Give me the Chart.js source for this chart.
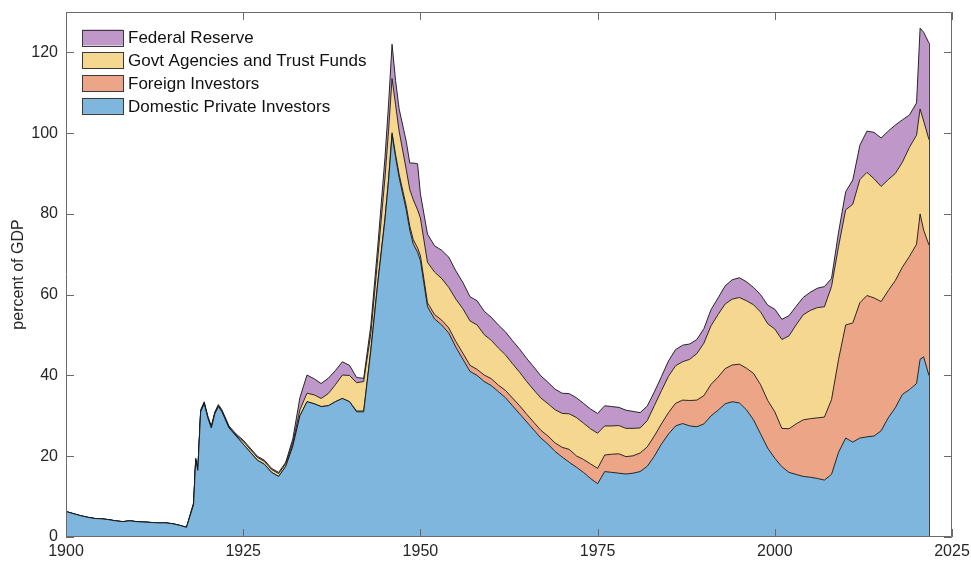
<!DOCTYPE html>
<html>
<head>
<meta charset="utf-8">
<title>Holders of US federal debt</title>
<script src="https://cdn.jsdelivr.net/npm/chart.js@4.4.1/dist/chart.umd.min.js"></script>
<style>
  html, body { margin: 0; padding: 0; background: #fff; }
  #wrap { width: 971px; height: 562px; }
</style>
</head>
<body>
<div id="wrap"><canvas id="debtChart" width="971" height="562"></canvas></div>
<script>
// year positions (a few half-year points where the curve turns sharply)
const years = [
  1900, 1901, 1902, 1903, 1904, 1905, 1906, 1907, 1908, 1909,
  1910, 1911, 1912, 1913, 1914, 1915, 1916, 1917,
  1918, 1918.3, 1918.6, 1919, 1919.5, 1920, 1920.5, 1921, 1921.5, 1922,
  1923, 1924, 1925, 1926, 1927, 1928, 1929, 1930, 1931, 1932,
  1933, 1934, 1935, 1936, 1937, 1938, 1939, 1940, 1941, 1942,
  1943, 1944, 1945,
  1945.5, 1946, 1946.5, 1947, 1948, 1948.5, 1949, 1949.6, 1950,
  1951, 1952, 1953, 1954, 1955, 1956, 1957, 1958, 1959, 1960,
  1961, 1962, 1963, 1964, 1965, 1966, 1967, 1968, 1969, 1970,
  1971, 1972, 1973, 1974, 1975, 1976, 1977, 1978, 1979, 1980,
  1981, 1982, 1983, 1984, 1985, 1986, 1987, 1988, 1989, 1990,
  1991, 1992, 1993, 1994, 1995, 1996, 1997, 1998, 1999, 2000,
  2001, 2002, 2003, 2004, 2005, 2006, 2007, 2008, 2009, 2010,
  2011, 2012, 2013, 2014, 2015, 2016, 2017, 2018, 2019, 2020,
  2020.5, 2021, 2021.75
];

// percent of GDP held by each group (layer thickness, stacked bottom to top)
const domestic = [
  6.3, 5.8, 5.3, 4.9, 4.6, 4.5, 4.3, 4.0, 3.8, 4.0,
  3.8, 3.7, 3.6, 3.5, 3.5, 3.3, 2.9, 2.4,
  8, 19, 16.5, 31, 33, 29.5, 27, 30.5, 32.3, 31,
  27, 25, 23, 21, 19, 18, 16, 15, 17.5, 22.5,
  30, 33.5, 33, 32.3, 32.5, 33.5, 34.3, 33.5, 31, 31,
  46, 63, 78.5,
  88, 99.5, 94, 89, 81, 76, 72.5, 70.5, 68.5,
  57, 54, 52.5, 50.5, 47, 44, 41, 40, 38.5, 37.5,
  36, 34.5, 32.5, 30.5, 28.5, 26.5, 24.5, 23, 21.2, 19.8,
  18.5, 17.3, 16, 14.5, 13.2, 16.2, 16, 15.8, 15.6, 15.8,
  16.2, 17.5, 20, 23, 25.5, 27.5, 28.1, 27.5, 27.3, 28,
  30, 31.4, 33, 33.5, 33.2, 31.5, 29, 25.5, 22, 19.5,
  17.4, 16, 15.5, 15, 14.8, 14.5, 14.1, 15.5, 21, 24.5,
  23.5, 24.5, 24.8, 25, 26.3, 29.5, 32, 35.3, 36.5, 38,
  44, 44.6, 40
];
const foreign = [
  0, 0, 0, 0, 0, 0, 0, 0, 0, 0,
  0, 0, 0, 0, 0, 0, 0, 0,
  0, 0, 0, 0, 0, 0, 0, 0, 0, 0,
  0, 0, 0, 0, 0, 0, 0, 0, 0, 0,
  0, 0, 0, 0, 0, 0, 0, 0, 0.2, 0.2,
  0.3, 0.3, 0.4,
  0.5, 0.6, 0.7, 0.8, 1.0, 1.0, 1.1, 1.1, 1.2,
  1.0, 1.1, 1.2, 1.3, 1.4, 1.5, 1.5, 1.5, 1.6, 1.7,
  1.6, 1.8, 1.9, 2.0, 1.9, 1.9, 1.9, 2.0, 2.1, 2.4,
  3.2, 2.8, 3.2, 3.6, 3.8, 4.1, 4.5, 4.8, 4.3, 4.3,
  4.6, 4.8, 5.0, 5.0, 5.3, 5.6, 5.8, 6.3, 6.6, 7.0,
  7.8, 8.2, 8.7, 9.1, 9.6, 10.3, 11.5, 12.2, 11.8, 11.5,
  9.5, 10.8, 12.5, 14, 14.5, 15, 15.6, 18.5, 23, 28,
  29.5, 33.5, 35, 34.2, 32, 31.5, 31.5, 31.5, 33, 34.5,
  36, 31.4, 32.3
];
const govtAgencies = [
  0, 0, 0, 0, 0, 0, 0, 0, 0, 0,
  0, 0, 0, 0, 0, 0, 0, 0,
  0.2, 0.2, 0.2, 0.2, 0.2, 0.2, 0.2, 0.2, 0.2, 0.2,
  0.2, 0.2, 0.7, 0.7, 0.7, 0.7, 0.7, 0.7, 0.7, 0.8,
  1.5, 2.1, 2.2, 2.0, 3.0, 4.2, 5.8, 6.5, 7.0, 7.3,
  4, 6, 10,
  12, 13.4, 12.3, 10.7, 9, 9, 9.9, 9.4, 9.3,
  10, 10.5, 10.3, 10, 10.5, 11, 11, 11, 10, 9.5,
  9.2, 8.8, 8.5, 8.3, 8.1, 8, 8, 8, 8.2, 8.4,
  8.8, 9.5, 9, 8.7, 8.7, 7.2, 7, 7, 7, 6.8,
  6.2, 6.5, 7.5, 8.2, 9, 9.3, 9.5, 10.2, 11.5, 13,
  14.5, 15.5, 16, 16.3, 16.5, 16.7, 17, 18, 19, 20.5,
  22, 23, 24.5, 26, 26.8, 27.3, 27.3, 28, 28, 28.5,
  29.4, 30.5, 30.5, 29.5, 28.5, 27.5, 26.5, 26, 27, 27,
  26, 27, 26.1
];
const fedReserve = [
  0, 0, 0, 0, 0, 0, 0, 0, 0, 0,
  0, 0, 0, 0, 0, 0, 0, 0,
  0.3, 0.3, 0.3, 0.3, 0.3, 0.3, 0.3, 0.3, 0.3, 0.3,
  0.3, 0.3, 0.3, 0.3, 0.3, 0.3, 0.3, 0.3, 0.3, 1.0,
  3.0, 4.5, 4.0, 3.7, 3.8, 3.5, 3.3, 2.5, 1.3, 0.8,
  2, 3, 5,
  6.5, 8.5, 6, 5.5, 7, 6.6, 9.1, 11.4, 6,
  7, 6.5, 7, 7.5, 7, 6.5, 6, 6, 5.8, 5.7,
  5.7, 5.7, 5.7, 5.7, 5.7, 5.7, 5.5, 5.3, 5.1, 5,
  5, 4.9, 4.9, 4.9, 4.9, 5, 4.8, 4.5, 4.5, 4.2,
  3.8, 3.6, 3.4, 3.5, 3.8, 4, 4.1, 3.8, 3.5, 3.6,
  4, 4.1, 4.5, 4.8, 4.9, 4.7, 4.3, 4.3, 4.6, 4.9,
  5, 5, 4.6, 4.3, 4.5, 4.8, 5, 2, 3.5, 4.5,
  6, 8.5, 10.2, 11.5, 12, 12, 12, 10.5, 8, 8,
  20, 22, 23.9
];

const seriesNames = ['Domestic Private Investors', 'Foreign Investors', 'Govt Agencies and Trust Funds', 'Federal Reserve'];
const seriesColors = ['#7eb6dd', '#eca687', '#f6d78f', '#bf98c9'];
const seriesValues = [domestic, foreign, govtAgencies, fedReserve];

const xTicks = [1900, 1925, 1950, 1975, 2000, 2025];
const yTicks = [0, 20, 40, 60, 80, 100, 120];

const FONT = '"Liberation Sans", Arial, Helvetica, sans-serif';
const TEXT = '#262626';

document.addEventListener('DOMContentLoaded', function () {
    const canvas = document.getElementById('debtChart');
    const ctx = canvas.getContext('2d');

    const datasets = seriesValues.map((vals, i) => ({
        label: seriesNames[i],
        data: vals.map((v, j) => ({ x: years[j], y: v })),
        backgroundColor: seriesColors[i],
        borderColor: 'rgba(20,20,20,0.9)',
        borderWidth: 1,
        pointRadius: 0,
        tension: 0,
        fill: i === 0 ? 'origin' : '-1'
    }));

    new Chart(ctx, {
        type: 'line',
        data: { datasets: datasets },
        options: {
            responsive: false,
            animation: false,
            devicePixelRatio: 1,
            layout: { padding: { top: 12, right: 19, bottom: 0, left: 0 } },
            scales: {
                x: {
                    type: 'linear',
                    min: 1900,
                    max: 2025,
                    afterBuildTicks: (scale) => { scale.ticks = xTicks.map(v => ({ value: v })); },
                    afterFit: (scale) => {
                        scale.height = 25;
                        scale.paddingLeft = 0;
                        scale.paddingRight = 0;
                    },
                    ticks: {
                        padding: 5,
                        maxRotation: 0,
                        color: TEXT,
                        font: { family: FONT, size: 16 },
                        callback: (v) => String(v)
                    },
                    grid: { display: false, drawTicks: false },
                    border: { display: false }
                },
                y: {
                    stacked: true,
                    min: 0,
                    max: 130,
                    afterBuildTicks: (scale) => { scale.ticks = yTicks.map(v => ({ value: v })); },
                    afterFit: (scale) => {
                        scale.width = 66;
                        scale.paddingTop = 0;
                        scale.paddingBottom = 0;
                    },
                    ticks: {
                        padding: 8,
                        color: TEXT,
                        font: { family: FONT, size: 16 }
                    },
                    grid: { display: false, drawTicks: false },
                    border: { display: false },
                    title: {
                        display: true,
                        text: 'percent of GDP',
                        color: TEXT,
                        font: { family: FONT, size: 16 },
                        padding: { top: 9, bottom: 0 }
                    }
                }
            },
            plugins: {
                legend: { display: false },
                tooltip: { enabled: false }
            }
        },
        plugins: [{
            id: 'matlabBox',
            afterDatasetsDraw: (chart) => {
                const c = chart.ctx;
                const a = chart.chartArea;
                const xs = chart.scales.x;
                const ys = chart.scales.y;
                const len = 8;
                c.save();
                // closing edge of the stacked patches at the last observation
                const last = years.length - 1;
                let total = 0;
                seriesValues.forEach(s => { total += s[last]; });
                const ex = Math.round(xs.getPixelForValue(years[last])) + 0.5;
                c.strokeStyle = 'rgba(20,20,20,0.8)';
                c.beginPath();
                c.moveTo(ex, ys.getPixelForValue(0));
                c.lineTo(ex, ys.getPixelForValue(total));
                c.stroke();

                c.strokeStyle = '#6a6a6a';
                c.lineWidth = 1;
                c.beginPath();
                c.rect(a.left + 0.5, a.top + 0.5, a.right - a.left - 1, a.bottom - a.top - 1);
                xTicks.forEach(v => {
                    const px = Math.round(xs.getPixelForValue(v)) + 0.5;
                    c.moveTo(px, a.bottom);
                    c.lineTo(px, a.bottom - len);
                    c.moveTo(px, a.top);
                    c.lineTo(px, a.top + len);
                });
                yTicks.forEach(v => {
                    const py = Math.round(ys.getPixelForValue(v)) + 0.5;
                    c.moveTo(a.left, py);
                    c.lineTo(a.left + len, py);
                    c.moveTo(a.right, py);
                    c.lineTo(a.right - len, py);
                });
                c.stroke();
                c.restore();
            }
        }, {
            id: 'insideLegend',
            afterDraw: (chart) => {
                const c = chart.ctx;
                const a = chart.chartArea;
                const x0 = a.left + 16;
                const rowH = 22.8;
                c.save();
                c.font = '17px ' + FONT;
                c.textBaseline = 'middle';
                c.textAlign = 'left';
                for (let k = 0; k < seriesNames.length; k++) {
                    const i = seriesNames.length - 1 - k;
                    const cy = a.top + 25.5 + k * rowH;
                    c.fillStyle = seriesColors[i];
                    c.fillRect(x0, cy - 8, 41, 16);
                    c.strokeStyle = '#3a3a3a';
                    c.lineWidth = 1;
                    c.strokeRect(x0 + 0.5, Math.round(cy - 8) + 0.5, 41, 16);
                    c.fillStyle = '#111';
                    c.fillText(seriesNames[i], x0 + 46, cy + 1);
                }
                c.restore();
            }
        }]
    });
});
</script>
</body>
</html>
